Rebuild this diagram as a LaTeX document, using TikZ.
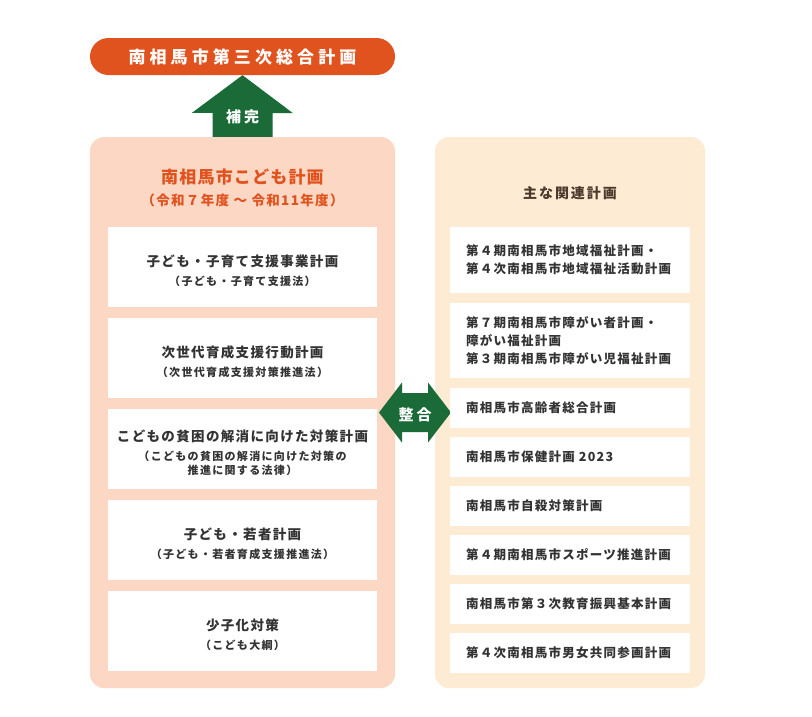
\documentclass[tikz,border=0pt]{standalone}
\usepackage{fontspec}
\setmainfont{Noto Sans CJK JP}
\usetikzlibrary{calc}

\definecolor{sogoOrange}{HTML}{E0521E}
\definecolor{kodomoPink}{HTML}{FCD7C3}
\definecolor{kanrenCream}{HTML}{FEEBD3}
\definecolor{seigoGreen}{HTML}{1A6B37}
\definecolor{darkTxt}{HTML}{333333}
\definecolor{brownTxt}{HTML}{4B3A2C}

\newcommand\ls[1]{\addfontfeature{LetterSpace=#1}}
\newcommand\kmain[1]{{\rule{0pt}{20pt}\fontsize{13.5}{14}\selectfont\ls{10}#1}}

\tikzset{
  pill/.style={fill=sogoOrange, rounded corners=18.5pt, minimum width=305pt, minimum height=37pt, inner sep=0pt, text=white},
  panel/.style={rounded corners=14pt, minimum height=551pt, inner sep=0pt},
  kobox/.style={fill=white, minimum width=269pt, minimum height=80pt, inner sep=0pt, align=center, text=darkTxt,
    font=\bfseries\fontsize{11}{14}\selectfont\ls{12}},
  kabox/.style={fill=white, text width=208pt, inner xsep=16pt, inner ysep=0pt, align=left, text=darkTxt,
    font=\bfseries\fontsize{12.5}{18}\selectfont\ls{10}},
}

\begin{document}
\begin{tikzpicture}[x=1pt, y=-1pt, font=\bfseries]
  \useasboundingbox (0,0) rectangle (812,716);

  \node[pill] (sogo) at (242.5,56.5) {\fontsize{17}{20}\selectfont\ls{24}南相馬市第三次総合計画};

  \node[panel, fill=kodomoPink, minimum width=305pt] (kodomo) at (242.5,412.5) {};
  \node[panel, fill=kanrenCream, minimum width=270pt] (kanren) at (570,412.5) {};

  % block arrows
  \fill[seigoGreen] (sogo.south) -- ++(50.5,38) -- ++(-20.5,0) -- ($(kodomo.north)+(30,0)$)
    -- ($(kodomo.north)+(-30,0)$) -- ++(0,-24) -- ++(-20.5,0) -- cycle;
  \coordinate (mid) at ($(kodomo.east)!.5!(kanren.west)$);
  \fill[seigoGreen] ($(mid)+(-36,0)$) -- ++(23,-30) -- ++(0,10.5) -- ++(26,0) -- ++(0,-10.5)
    -- ($(mid)+(36,0)$) -- ++(-23,30) -- ++(0,-10.5) -- ++(-26,0) -- ++(0,10.5) -- cycle;
  \node[text=white] (hokan) at (242.5,117) {\fontsize{15}{17}\selectfont\ls{20}補完};
  \node[text=white] (seigo) at ($(mid)+(0,2)$) {\fontsize{15}{17}\selectfont\ls{20}整合};

  \node[text=sogoOrange] (kodomoTitle) at (242.5,177) {\fontsize{17}{20}\selectfont\ls{7}南相馬市こども計画};
  \node[text=sogoOrange] (kodomoYear) at (242.5,200) {\fontsize{13.5}{15}\selectfont\ls{10}（令和７年度 ～ 令和11年度）};
  \node[text=brownTxt] (kanrenTitle) at (570,193) {\fontsize{14}{16}\selectfont\ls{14}主な関連計画};

  \node[kobox] (kosodate) at (242.5,267) {\kmain{子ども・子育て支援事業計画}\\[5pt]（子ども・子育て支援法）};
  \node[kobox] (jisedai) at (242.5,358) {\kmain{次世代育成支援行動計画}\\[5pt]（次世代育成支援対策推進法）};
  \node[kobox] (hinkon) at (242.5,449) {\kmain{こどもの貧困の解消に向けた対策計画}\\[5pt]（こどもの貧困の解消に向けた対策の\\推進に関する法律）};
  \node[kobox] (wakamono) at (242.5,540) {\kmain{子ども・若者計画}\\[5pt]（子ども・若者育成支援推進法）};
  \node[kobox] (shoshika) at (242.5,631) {\kmain{少子化対策}\\[5pt]（こども大綱）};

  \node[kabox, minimum height=66pt] (chiiki) at (570,260) {第４期南相馬市地域福祉計画・\\第４次南相馬市地域福祉活動計画};
  \node[kabox, minimum height=75pt] (shogai) at (570,340.5) {第７期南相馬市障がい者計画・\\障がい福祉計画\\第３期南相馬市障がい児福祉計画};
  \node[kabox, minimum height=40pt] (korei) at (570,408) {南相馬市高齢者総合計画};
  \node[kabox, minimum height=40pt] (hoken) at (570,457) {南相馬市保健計画 2023};
  \node[kabox, minimum height=40pt] (jisatsu) at (570,506) {南相馬市自殺対策計画};
  \node[kabox, minimum height=40pt] (sports) at (570,555) {第４期南相馬市スポーツ推進計画};
  \node[kabox, minimum height=40pt] (kyoiku) at (570,604) {南相馬市第３次教育振興基本計画};
  \node[kabox, minimum height=40pt] (danjo) at (570,653) {第４次南相馬市男女共同参画計画};
\end{tikzpicture}
\end{document}
